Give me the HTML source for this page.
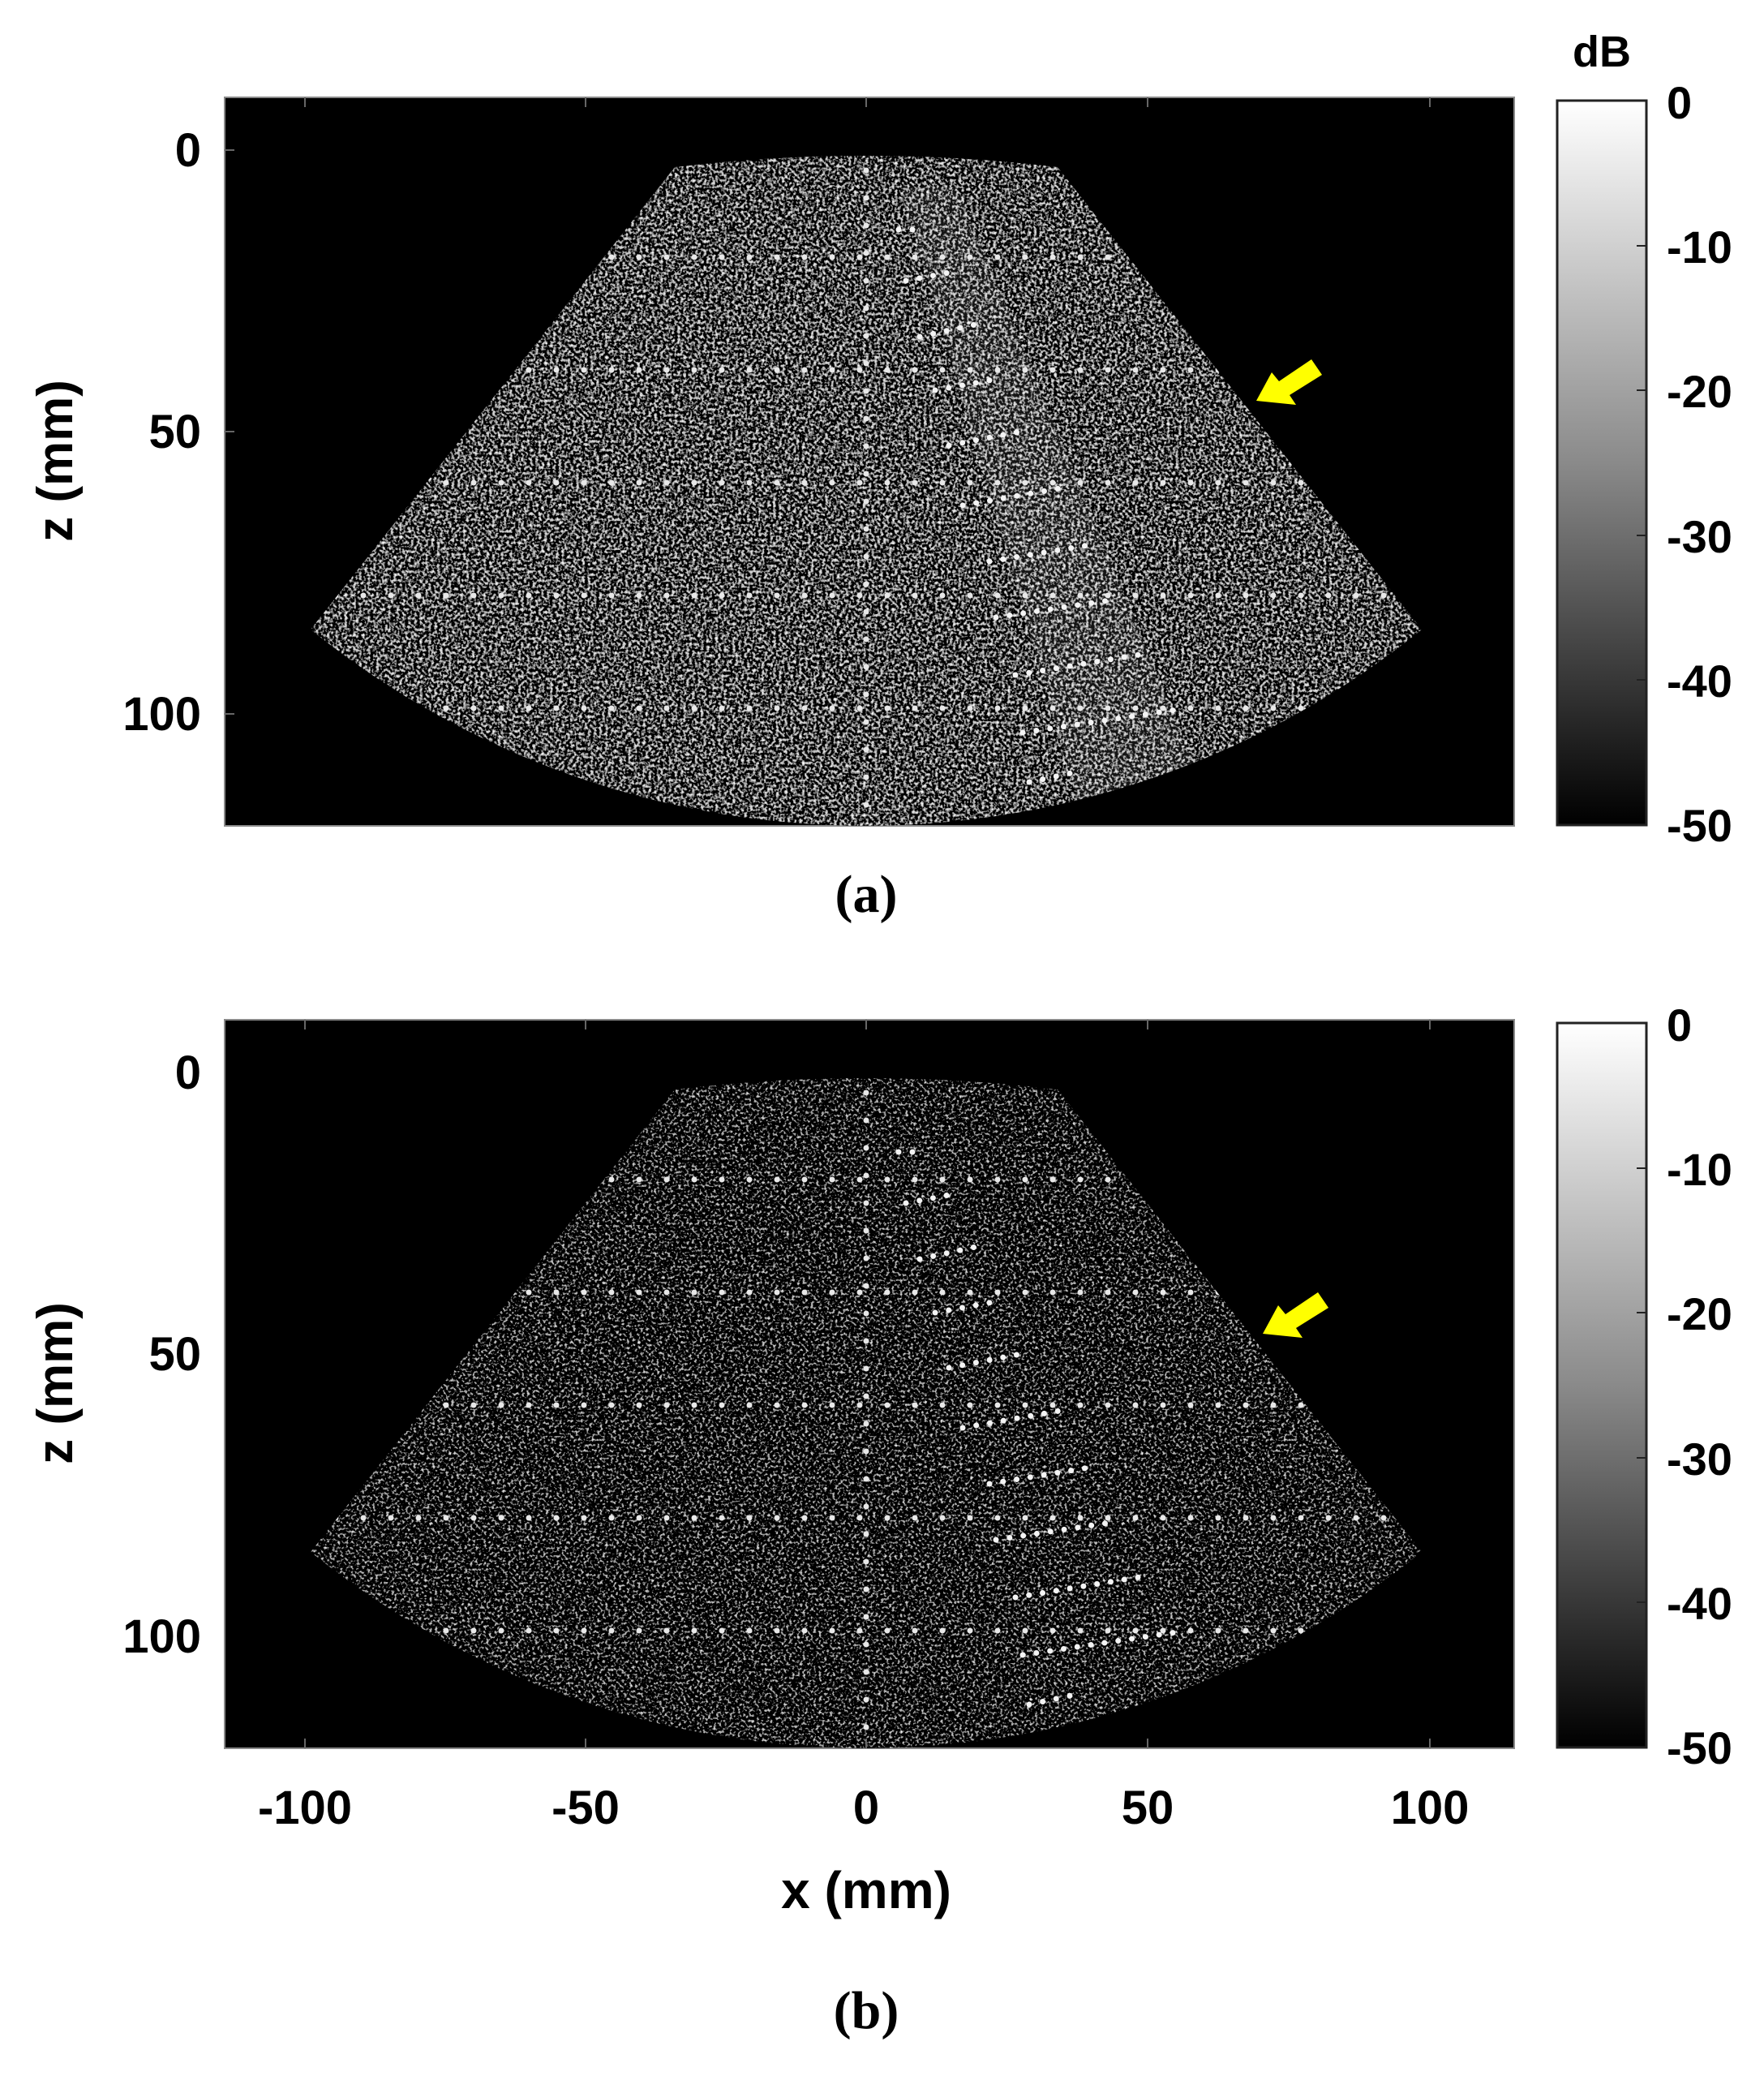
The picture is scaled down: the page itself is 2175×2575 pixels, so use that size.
<!DOCTYPE html>
<html><head><meta charset="utf-8"><style>
html,body{margin:0;padding:0;background:#fff;}
svg{display:block;}
text{font-family:"Liberation Sans",Arial,sans-serif;font-weight:bold;}
</style></head><body>
<svg width="2175" height="2575" viewBox="0 0 2175 2575" xmlns="http://www.w3.org/2000/svg">
<defs>
<filter id="spA" x="0" y="0" width="100%" height="100%">
<feTurbulence type="fractalNoise" baseFrequency="0.28" numOctaves="2" seed="3" result="n"/>
<feColorMatrix type="matrix" values="2.6 0 0 0 -1.22  2.6 0 0 0 -1.22  2.6 0 0 0 -1.22  0 0 0 0 1" in="n"/>
</filter>
<filter id="spB" x="0" y="0" width="100%" height="100%">
<feTurbulence type="fractalNoise" baseFrequency="0.3" numOctaves="2" seed="7" result="n"/>
<feColorMatrix type="matrix" values="2.6 0 0 0 -1.42  2.6 0 0 0 -1.42  2.6 0 0 0 -1.42  0 0 0 0 1" in="n"/>
</filter>
<clipPath id="sec"><path d="M832,206 Q1068,178 1304,206 L1753,776 A1091,1091 0 0 1 383,776 Z"/></clipPath>
<linearGradient id="cb" x1="0" y1="0" x2="0" y2="1">
<stop offset="0" stop-color="#fff"/><stop offset="0.5" stop-color="#8a8a8a"/><stop offset="1" stop-color="#000"/>
</linearGradient>
<g id="dots">
<g stroke="#e8e8e8" stroke-width="7" stroke-linecap="round" stroke-dasharray="0 34" fill="none">
<line x1="380" y1="317" x2="1760" y2="317"/>
<line x1="380" y1="456" x2="1760" y2="456"/>
<line x1="380" y1="595" x2="1760" y2="595"/>
<line x1="380" y1="734" x2="1760" y2="734"/>
<line x1="380" y1="873" x2="1760" y2="873"/>
<line x1="1068" y1="210" x2="1068" y2="1010"/>
</g>
<g stroke="#f4f4f4" stroke-width="7" stroke-linecap="round" stroke-dasharray="0 17" fill="none">
<line x1="1108" y1="283" x2="1138" y2="283"/>
<line x1="1117" y1="346" x2="1170" y2="336"/>
<line x1="1134" y1="415" x2="1203" y2="400"/>
<line x1="1153" y1="481" x2="1236" y2="466"/>
<line x1="1170" y1="549" x2="1269" y2="530"/>
<line x1="1187" y1="623" x2="1318" y2="600"/>
<line x1="1220" y1="692" x2="1343" y2="672"/>
<line x1="1228" y1="761" x2="1368" y2="740"/>
<line x1="1252" y1="832" x2="1417" y2="805"/>
<line x1="1261" y1="903" x2="1450" y2="875"/>
<line x1="1269" y1="964" x2="1335" y2="950"/>
</g>
</g>
</defs>

<!-- Panel a -->
<rect x="277" y="120" width="1590" height="898" fill="#000" stroke="#888" stroke-width="2"/>
<g clip-path="url(#sec)">
<rect x="370" y="160" width="1400" height="860" filter="url(#spA)"/>
<path d="M1110,230 L1180,230 L1480,960 L1330,990 Z" fill="#fff" opacity="0.08"/>
<use href="#dots"/>
</g>
<g stroke="#666" stroke-width="2">
<line x1="376" y1="120" x2="376" y2="132"/><line x1="722" y1="120" x2="722" y2="132"/><line x1="1068" y1="120" x2="1068" y2="132"/><line x1="1415" y1="120" x2="1415" y2="132"/><line x1="1763" y1="120" x2="1763" y2="132"/>
<line x1="277" y1="185" x2="289" y2="185"/><line x1="277" y1="532" x2="289" y2="532"/><line x1="277" y1="880" x2="289" y2="880"/>
</g>
<polygon points="1549,494 1568,459 1577,470 1617,443 1630,462 1590,487 1598,499" fill="#ffff00"/>
<g font-size="58" text-anchor="end">
<text x="248" y="205">0</text><text x="248" y="552">50</text><text x="248" y="900">100</text>
</g>
<text transform="translate(89,568) rotate(-90)" font-size="62" text-anchor="middle">z (mm)</text>
<rect x="1920" y="124" width="110" height="893" fill="url(#cb)" stroke="#222" stroke-width="3"/>
<g stroke="#222" stroke-width="2"><line x1="2018" y1="303" x2="2030" y2="303"/><line x1="2018" y1="481" x2="2030" y2="481"/><line x1="2018" y1="660" x2="2030" y2="660"/><line x1="2018" y1="838" x2="2030" y2="838"/></g>
<g font-size="56">
<text x="2055" y="146">0</text><text x="2055" y="324">-10</text><text x="2055" y="502">-20</text><text x="2055" y="681">-30</text><text x="2055" y="859">-40</text><text x="2055" y="1037">-50</text>
</g>
<text x="1975" y="82" font-size="54" text-anchor="middle">dB</text>
<text x="1068" y="1124" font-size="66" text-anchor="middle" style="font-family:'Liberation Serif',serif">(a)</text>

<!-- Panel b -->
<g transform="translate(0,1137)">
<rect x="277" y="120" width="1590" height="898" fill="#000" stroke="#888" stroke-width="2"/>
<g clip-path="url(#sec)">
<rect x="370" y="160" width="1400" height="860" filter="url(#spB)"/>
<use href="#dots"/>
</g>
<g stroke="#666" stroke-width="2">
<line x1="376" y1="120" x2="376" y2="132"/><line x1="722" y1="120" x2="722" y2="132"/><line x1="1068" y1="120" x2="1068" y2="132"/><line x1="1415" y1="120" x2="1415" y2="132"/><line x1="1763" y1="120" x2="1763" y2="132"/>
<line x1="376" y1="1006" x2="376" y2="1018"/><line x1="722" y1="1006" x2="722" y2="1018"/><line x1="1068" y1="1006" x2="1068" y2="1018"/><line x1="1415" y1="1006" x2="1415" y2="1018"/><line x1="1763" y1="1006" x2="1763" y2="1018"/>
</g>
<polygon points="1557,507 1576,472 1585,483 1625,456 1638,475 1598,500 1606,512" fill="#ffff00"/>
<g font-size="58" text-anchor="end">
<text x="248" y="205">0</text><text x="248" y="552">50</text><text x="248" y="900">100</text>
</g>
<text transform="translate(89,568) rotate(-90)" font-size="62" text-anchor="middle">z (mm)</text>
<rect x="1920" y="124" width="110" height="893" fill="url(#cb)" stroke="#222" stroke-width="3"/>
<g stroke="#222" stroke-width="2"><line x1="2018" y1="303" x2="2030" y2="303"/><line x1="2018" y1="481" x2="2030" y2="481"/><line x1="2018" y1="660" x2="2030" y2="660"/><line x1="2018" y1="838" x2="2030" y2="838"/></g>
<g font-size="56">
<text x="2055" y="146">0</text><text x="2055" y="324">-10</text><text x="2055" y="502">-20</text><text x="2055" y="681">-30</text><text x="2055" y="859">-40</text><text x="2055" y="1037">-50</text>
</g>
</g>
<g font-size="58" text-anchor="middle">
<text x="376" y="2248">-100</text><text x="722" y="2248">-50</text><text x="1068" y="2248">0</text><text x="1415" y="2248">50</text><text x="1763" y="2248">100</text>
</g>
<text x="1068" y="2352" font-size="64" text-anchor="middle">x (mm)</text>
<text x="1068" y="2500" font-size="66" text-anchor="middle" style="font-family:'Liberation Serif',serif">(b)</text>
</svg>
</body></html>
